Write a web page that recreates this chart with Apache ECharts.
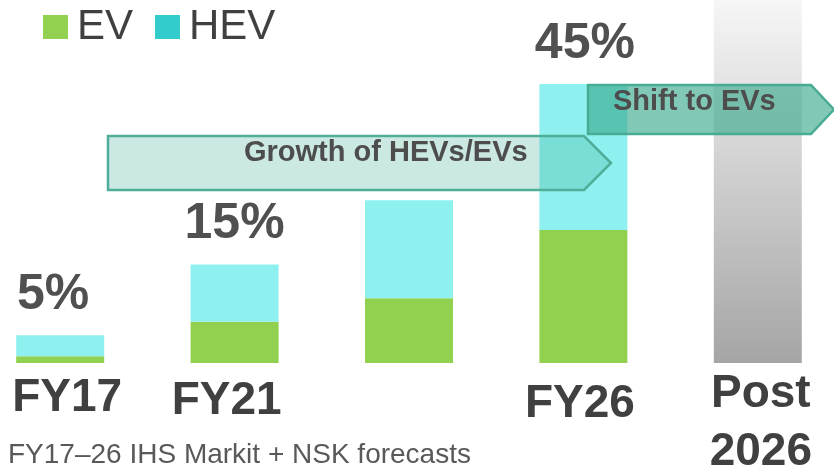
<!DOCTYPE html>
<html>
<head>
<meta charset="utf-8">
<script src="https://cdn.jsdelivr.net/npm/echarts@6/dist/echarts.min.js"></script>
<style>
html,body{margin:0;padding:0;background:#fff;}
#chart{width:834px;height:466px;}
</style>
</head>
<body>
<div id="chart"></div>
<script>
// ---- data ----
const categories = ['FY17', 'FY21', '', 'FY26', 'Post\n2026'];
const evValues   = [1.1, 6.8, 10.7, 22.0, null];
const hevValues  = [3.5, 9.5, 16.2, 24.1, null];
const postValues = [null, null, null, null, 60];
const shareLabels = ['5%', '15%', '', '45%', ''];
const footnote = 'FY17\u201326 IHS Markit + NSK forecasts';
const arrowGrowth = 'Growth of HEVs/EVs';
const arrowShift = 'Shift to EVs';

const FONT = "'Liberation Sans', Arial, Helvetica, sans-serif";
const labelKeys = ['f0', 'f1', 'f2', 'f3', 'p'];
const shareKeys = ['s0', 's1', 's2', 's3', 's4'];

const shareStyle = function (pad) {
  return { fontSize: 50, lineHeight: 50, fontWeight: 'bold', color: '#505050', fontFamily: FONT, padding: pad };
};

const chart = echarts.init(document.getElementById('chart'));
chart.setOption({
  animation: false,
  backgroundColor: '#ffffff',
  textStyle: { fontFamily: FONT },
  title: {
    text: footnote,
    left: 8,
    top: 441,
    padding: 0,
    textStyle: { fontSize: 28, fontWeight: 'normal', color: '#595959', lineHeight: 28, fontFamily: FONT }
  },
  legend: {
    left: 43,
    top: 6,
    padding: 0,
    itemWidth: 25,
    itemHeight: 24,
    itemGap: 22,
    selectedMode: false,
    icon: 'rect',
    textStyle: { fontSize: 42, color: '#404040', fontFamily: FONT, padding: [0, 0, 0, 4] },
    data: [
      { name: 'EV', itemStyle: { color: '#92d050' } },
      { name: 'HEV', itemStyle: { color: '#33cccc' } }
    ]
  },
  grid: { left: -27, width: 872, top: 0, height: 363, containLabel: false, outerBoundsMode: 'none' },
  xAxis: {
    type: 'category',
    data: categories,
    axisLine: { show: false },
    axisTick: { show: false },
    axisLabel: {
      interval: 0,
      margin: 2,
      color: '#404040',
      fontFamily: FONT,
      fontWeight: 'bold',
      fontSize: 46,
      formatter: function (v, i) {
        if (!v) return '';
        return '{' + labelKeys[i] + '|' + v + '}';
      },
      rich: {
        f0: { fontSize: 46, fontWeight: 'bold', color: '#404040', fontFamily: FONT, lineHeight: 66, padding: [0, 0, 0, 14] },
        f1: { fontSize: 46, fontWeight: 'bold', color: '#404040', fontFamily: FONT, lineHeight: 72, padding: [0, 16, 0, 0] },
        f2: { fontSize: 46, fontWeight: 'bold', color: '#404040', fontFamily: FONT, lineHeight: 72 },
        f3: { fontSize: 46, fontWeight: 'bold', color: '#404040', fontFamily: FONT, lineHeight: 78, padding: [0, 7, 0, 0] },
        p:  { fontSize: 46, fontWeight: 'bold', color: '#404040', fontFamily: FONT, lineHeight: 58, padding: [0, 0, 0, 6] }
      }
    }
  },
  yAxis: {
    type: 'value',
    min: 0,
    max: 60,
    show: false,
    splitLine: { show: false }
  },
  series: [
    {
      name: 'EV',
      type: 'bar',
      stack: 'a',
      barWidth: 88,
      data: evValues,
      itemStyle: { color: '#92d050' }
    },
    {
      name: 'HEV',
      type: 'bar',
      stack: 'a',
      barWidth: 88,
      data: hevValues,
      itemStyle: { color: '#8ef1ef' },
      label: {
        show: true,
        position: 'top',
        distance: 15,
        fontSize: 50,
        lineHeight: 50,
        fontWeight: 'bold',
        color: '#505050',
        fontFamily: FONT,
        formatter: function (p) {
          const t = shareLabels[p.dataIndex];
          return t ? '{' + shareKeys[p.dataIndex] + '|' + t + '}' : '';
        },
        rich: {
          s0: shareStyle([0, 14, 0, 0]),
          s1: shareStyle([0, 0, 0, 0]),
          s2: shareStyle([0, 0, 0, 0]),
          s3: shareStyle([0, 0, 0, 3]),
          s4: shareStyle([0, 0, 0, 0])
        }
      }
    },
    {
      name: 'Post 2026',
      type: 'bar',
      stack: 'a',
      barWidth: 88,
      data: postValues,
      itemStyle: {
        color: {
          type: 'linear', x: 0, y: 0, x2: 0, y2: 1,
          colorStops: [
            { offset: 0, color: '#f6f6f6' },
            { offset: 1, color: '#a5a5a5' }
          ]
        }
      }
    }
  ],
  graphic: [
    {
      type: 'polygon',
      z: 100,
      shape: { points: [[108, 136], [584, 136], [611, 163], [584, 190], [108, 190]] },
      style: { fill: 'rgba(70,175,150,0.28)', stroke: '#4fae97', lineWidth: 2.5 }
    },
    {
      type: 'text',
      z: 101,
      style: {
        text: arrowGrowth, x: 244, y: 153,
        textAlign: 'left', textVerticalAlign: 'middle',
        font: 'bold 29px ' + FONT,
        fill: '#4d4d4d',
        shadowColor: 'rgba(0,0,0,0.35)', shadowBlur: 3, shadowOffsetX: 1.5, shadowOffsetY: 1.5
      }
    },
    {
      type: 'polygon',
      z: 102,
      shape: { points: [[588, 85], [811, 85], [834, 109.5], [811, 134], [588, 134]] },
      style: { fill: 'rgba(62,170,145,0.65)', stroke: '#48ab93', lineWidth: 2.5 }
    },
    {
      type: 'text',
      z: 103,
      style: {
        text: arrowShift, x: 613, y: 102,
        textAlign: 'left', textVerticalAlign: 'middle',
        font: 'bold 29px ' + FONT,
        fill: '#4d4d4d',
        shadowColor: 'rgba(0,0,0,0.35)', shadowBlur: 3, shadowOffsetX: 1.5, shadowOffsetY: 1.5
      }
    }
  ]
});
</script>
</body>
</html>
